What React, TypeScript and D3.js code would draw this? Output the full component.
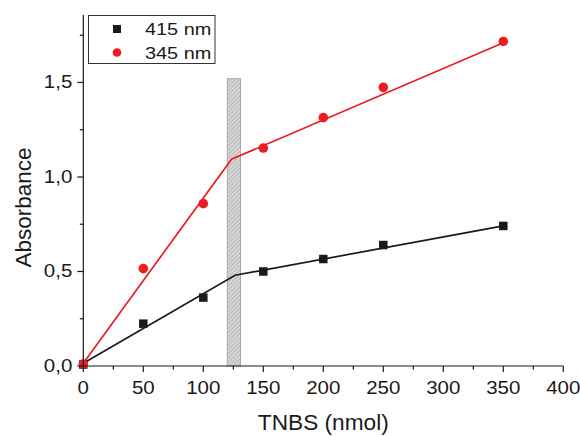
import React from "react";
import * as d3 from "d3";

const xValues = [0, 50, 100, 150, 200, 250, 350];
const abs415 = [0.008, 0.224, 0.362, 0.5, 0.566, 0.64, 0.741];
const abs345 = [0.01, 0.515, 0.859, 1.153, 1.314, 1.474, 1.717];
const fit415X = [0, 126.5, 350];
const fit415Y = [0.015, 0.48, 0.741];
const fit345X = [0, 123.5, 350];
const fit345Y = [0.015, 1.094, 1.71];
const bandX = [120, 131];
const bandTop = 1.52;
const xTicks = [0, 50, 100, 150, 200, 250, 300, 350, 400];
const yTicks = [0, 0.5, 1.0, 1.5];
const xMinor = [25, 75, 125, 175, 225, 275, 325, 375];
const yMinor = [0.25, 0.75, 1.25, 1.75];
const seriesNames = ["415 nm", "345 nm"];

const W = 580, H = 436;
const left = 83.3, right = 563.3, top = 15, bottom = 366;
const BLACK = "#1a1a1a";
const RED = "#ec1c24";
const FONT = "Liberation Sans, Arial, sans-serif";
const SX = 1.17;

function T(props: { x: number; y: number; anchor?: string; size: number; sx?: number; children: React.ReactNode }) {
  const { x, y, anchor = "start", size, sx = SX, children } = props;
  return (
    <text transform={`translate(${x},${y}) scale(${sx},1)`} textAnchor={anchor} fontSize={size} fill={BLACK}>{children}</text>
  );
}

export default function App() {
  const x = d3.scaleLinear().domain([0, 400]).range([left, right]);
  const y = d3.scaleLinear().domain([0, 1.857]).range([bottom, top]);
  const line = d3.line<[number, number]>().x(d => x(d[0])).y(d => y(d[1]));
  const fmt = (v: number) => d3.format(".1f")(v).replace(".", ",");
  const fit415 = fit415X.map((v, i) => [v, fit415Y[i]] as [number, number]);
  const fit345 = fit345X.map((v, i) => [v, fit345Y[i]] as [number, number]);
  const sq = 8.5, r = 4.8;
  return (
    <svg width={W} height={H} style={{ position: "absolute", left: 0, top: 0, background: "#fff" }} fontFamily={FONT}>
      <defs>
        <pattern id="hatch" width="3" height="3" patternUnits="userSpaceOnUse" patternTransform="rotate(45)">
          <rect width="3" height="3" fill="#d6d6d6" />
          <line x1="0" y1="0" x2="0" y2="3" stroke="#9a9a9a" strokeWidth="1" />
        </pattern>
      </defs>
      <rect x={x(bandX[0])} y={y(bandTop)} width={x(bandX[1]) - x(bandX[0])} height={y(0) - y(bandTop)}
        fill="url(#hatch)" stroke="#a8a8a8" strokeWidth={1} />
      <path d={line(fit415) || ""} fill="none" stroke={BLACK} strokeWidth={1.7} />
      <path d={line(fit345) || ""} fill="none" stroke={RED} strokeWidth={1.7} />
      {xValues.map((v, i) => (
        <rect key={"s" + i} x={x(v) - sq / 2} y={y(abs415[i]) - sq / 2} width={sq} height={sq} fill={BLACK} />
      ))}
      {xValues.map((v, i) => (
        <circle key={"c" + i} cx={x(v)} cy={y(abs345[i])} r={r} fill={RED} />
      ))}
      {/* axes */}
      <line x1={left} x2={left} y1={top} y2={bottom} stroke={BLACK} strokeWidth={1.2} />
      <line x1={left} x2={right} y1={bottom} y2={bottom} stroke={BLACK} strokeWidth={1.2} />
      {xTicks.map(t => (
        <g key={"xt" + t}>
          <line x1={x(t)} x2={x(t)} y1={bottom} y2={bottom + 6} stroke={BLACK} strokeWidth={1.2} />
          <T x={x(t)} y={bottom + 28} anchor="middle" size={17.5}>{t}</T>
        </g>
      ))}
      {xMinor.map(t => (
        <line key={"xm" + t} x1={x(t)} x2={x(t)} y1={bottom} y2={bottom + 3.5} stroke={BLACK} strokeWidth={1.2} />
      ))}
      {yTicks.map(t => (
        <g key={"yt" + t}>
          <line x1={left} x2={left - 6} y1={y(t)} y2={y(t)} stroke={BLACK} strokeWidth={1.2} />
          <T x={left - 11} y={y(t) + 6} anchor="end" size={17.5}>{fmt(t)}</T>
        </g>
      ))}
      {yMinor.map(t => (
        <line key={"ym" + t} x1={left} x2={left - 3.5} y1={y(t)} y2={y(t)} stroke={BLACK} strokeWidth={1.2} />
      ))}
      <T x={(left + right) / 2} y={430} anchor="middle" size={22} sx={1.03}>TNBS (nmol)</T>
      <text transform={`translate(31, ${(top + bottom) / 2 + 17}) rotate(-90)`} textAnchor="middle" fontSize={22.5} fill={BLACK}>Absorbance</text>
      {/* legend */}
      <rect x={88.5} y={15.5} width={126.5} height={48} fill="#fff" stroke="#333" strokeWidth={1} />
      <rect x={117 - 4} y={29 - 4} width={8} height={8} fill={BLACK} />
      <circle cx={117} cy={52.5} r={4.3} fill={RED} />
      <T x={145} y={35} size={17}>{seriesNames[0]}</T>
      <T x={145} y={58.5} size={17}>{seriesNames[1]}</T>
    </svg>
  );
}
